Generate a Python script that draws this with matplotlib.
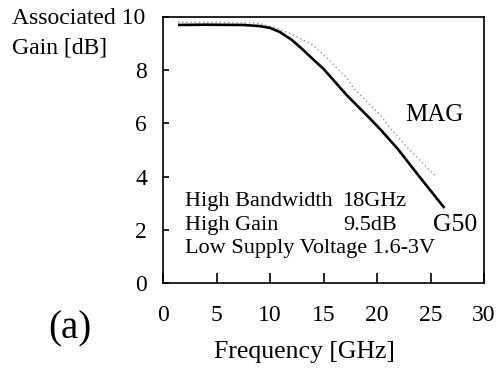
import matplotlib
matplotlib.use("Agg")
import matplotlib.pyplot as plt

plt.rcParams['font.family'] = ['Liberation Serif', 'DejaVu Serif']

# Associated gain of the G50 device (solid) and maximum available gain (dotted)
g50_freq = [1.4, 4.0, 7.5, 9.0, 10.0, 10.9, 12.0, 13.0, 14.0, 15.0, 17.2, 19.35, 20.3, 21.9, 24.0, 26.3]
g50_gain = [9.70, 9.71, 9.70, 9.66, 9.59, 9.44, 9.15, 8.80, 8.42, 8.05, 7.05, 6.18, 5.78, 5.06, 3.98, 2.82]

mag_freq = [1.4, 5.0, 8.8, 10.5, 12.2, 14.0, 15.6, 17.2, 17.8, 20.3, 21.2, 22.9, 25.1, 25.4]
mag_gain = [9.80, 9.80, 9.77, 9.60, 9.32, 8.95, 8.35, 7.70, 7.33, 6.32, 5.83, 5.07, 4.17, 4.05]

x_ticks = [0, 5, 10, 15, 20, 25, 30]
y_ticks = [0, 2, 4, 6, 8, 10]

W, H = 498, 374
fig = plt.figure(figsize=(W / 100, H / 100), dpi=100)
ax = fig.add_axes([163 / W, (H - 283) / H, (484 - 163) / W, (283 - 17) / H])

ax.plot(mag_freq, mag_gain, color='0.6', lw=1.0, ls=(0, (1, 2)))
ax.plot(g50_freq, g50_gain, color='black', lw=1.9, solid_capstyle='butt')

ax.set_xlim(0, 30)
ax.set_ylim(0, 10)
ax.set_xticks(x_ticks)
ax.set_yticks(y_ticks)
ax.set_xticklabels([str(t) for t in x_ticks])
ax.set_yticklabels(['0', '2', '4', '6', '8', ''])
for s in ax.spines.values():
    s.set_linewidth(1.2)
ax.tick_params(axis='x', direction='in', length=7, width=1.2, pad=16, labelsize=17)
ax.tick_params(axis='y', direction='in', length=4, width=1.2, pad=11.5, labelsize=17)

ax.text(25.4, 6.32, 'MAG', fontsize=18, ha='center', va='center')
ax.text(25.2, 2.18, 'G50', fontsize=18.5, ha='left', va='center')
ax.text(2.05, 3.07, 'High Bandwidth', fontsize=16, ha='left', va='center')
ax.text(16.7, 3.07, '18GHz', fontsize=16, ha='left', va='center')
ax.text(2.05, 2.18, 'High Gain', fontsize=16, ha='left', va='center')
ax.text(16.8, 2.18, '9.5dB', fontsize=16, ha='left', va='center')
ax.text(2.05, 1.31, 'Low Supply Voltage 1.6-3V', fontsize=16, ha='left', va='center')

fig.text(12 / W, 1 - 18 / H, 'Associated 10', fontsize=17, ha='left', va='center')
fig.text(12 / W, 1 - 48 / H, 'Gain [dB]', fontsize=17, ha='left', va='center')
fig.text(304 / W, 1 - 352 / H, 'Frequency [GHz]', fontsize=18.5, ha='center', va='center')
fig.text(70 / W, 1 - 329 / H, '(a)', fontsize=28, ha='center', va='center')

fig.savefig('out.png', dpi=100)
